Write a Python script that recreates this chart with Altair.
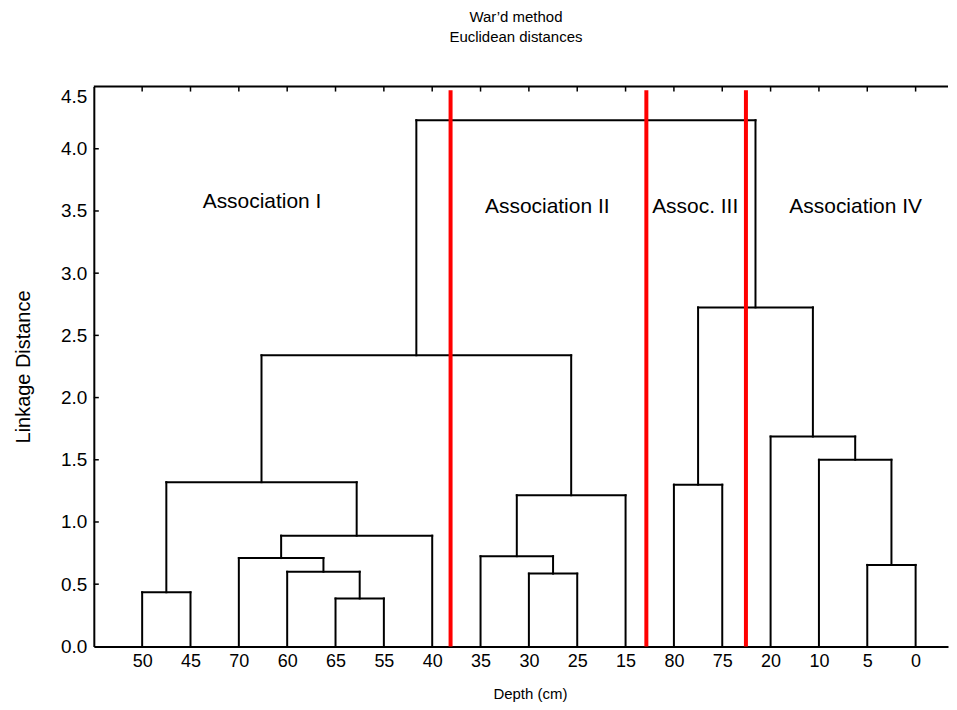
import altair as alt
import pandas as pd

FONT = "Liberation Sans"

# ---- data ----
leaf_labels = ["50", "45", "70", "60", "65", "55", "40", "35", "30", "25",
               "15", "80", "75", "20", "10", "5", "0"]

# agglomeration steps: left child, right child, linkage distance
# children are leaf labels or cluster ids "c1".."c16" (cN = result of step N)
merge_left = ["65", "50", "30", "60", "5", "70", "35", "c6", "c7", "80",
              "c2", "10", "20", "c11", "c10", "c14"]
merge_right = ["55", "45", "25", "c1", "0", "c4", "c3", "40", "15", "75",
               "c8", "c5", "c12", "c9", "c13", "c15"]
merge_height = [0.385, 0.435, 0.585, 0.60, 0.655, 0.71, 0.725, 0.89, 1.215,
                1.30, 1.32, 1.50, 1.687, 2.34, 2.725, 4.23]

cut_positions = [6.38, 10.43, 12.49]     # red separators (leaf units)
cut_top = 4.47

assoc_names = ["Association I", "Association II", "Assoc. III", "Association IV"]
assoc_x = [2.48, 8.38, 11.44, 14.76]
assoc_y = [3.57, 3.53, 3.53, 3.53]

y_ticks = [0.0, 0.5, 1.0, 1.5, 2.0, 2.5, 3.0, 3.5, 4.0, 4.5]

# ---- build dendrogram segments ----
pos = {lab: float(i) for i, lab in enumerate(leaf_labels)}
hgt = {lab: 0.0 for lab in leaf_labels}
rows = []
for k, (a, b, h) in enumerate(zip(merge_left, merge_right, merge_height)):
    xa, xb = pos[a], pos[b]
    rows.append({"x": xa, "x2": xa, "y": hgt[a], "y2": h})
    rows.append({"x": xb, "x2": xb, "y": hgt[b], "y2": h})
    rows.append({"x": xa, "x2": xb, "y": h, "y2": h})
    cid = f"c{k + 1}"
    pos[cid] = (xa + xb) / 2.0
    hgt[cid] = h
seg_df = pd.DataFrame(rows)

leaf_df = pd.DataFrame({"x": list(range(len(leaf_labels))), "lab": leaf_labels})
cut_df = pd.DataFrame({"x": cut_positions, "y": [0.0] * len(cut_positions),
                       "y2": [cut_top] * len(cut_positions)})
assoc_df = pd.DataFrame({"x": assoc_x, "y": assoc_y, "t": assoc_names})
ytick_df = pd.DataFrame({"y": y_ticks[1:-1]})
top_df = pd.DataFrame({"y": [y_ticks[-1]]})

W, H = 856, 561
x_scale = alt.Scale(domain=[-1, 16.67], nice=False, zero=False)
y_scale = alt.Scale(domain=[0, 4.5], nice=False, zero=True)

label_expr = "[" + ",".join(f"'{l}'" for l in leaf_labels) + "][datum.value]"

x_axis = alt.Axis(values=list(range(len(leaf_labels))), labelExpr=label_expr,
                  ticks=False, grid=False, domainColor="black", domainWidth=2,
                  labelFont=FONT, labelFontSize=18, labelColor="black",
                  labelPadding=6, labelAngle=0,
                  title="Depth (cm)", titleFont=FONT, titleFontSize=15,
                  titleFontWeight="normal", titleColor="black",
                  titlePadding=16, titleX=437)
y_axis = alt.Axis(values=y_ticks, format=".1f", ticks=False, grid=False,
                  domainColor="black", domainWidth=2,
                  labelFont=FONT, labelFontSize=19, labelColor="black",
                  labelPadding=7,
                  labelOffset={"condition": {"test": "datum.value === 4.5", "value": 10}, "value": 0},
                  title="Linkage Distance", titleFont=FONT, titleFontSize=20,
                  titleFontWeight="normal", titleColor="black", titlePadding=27)

X = lambda f: alt.X(f, scale=x_scale, axis=x_axis, title="Depth (cm)")
Y = lambda f: alt.Y(f, scale=y_scale, axis=y_axis, title="Linkage Distance")

segs = alt.Chart(seg_df).mark_rule(color="black", strokeWidth=2, strokeCap="square").encode(
    x=X("x:Q"), x2="x2:Q", y=Y("y:Q"), y2="y2:Q",
)

top_border = alt.Chart(top_df).mark_rule(color="black", strokeWidth=2).encode(
    y=Y("y:Q")
)

top_ticks = alt.Chart(leaf_df).mark_rule(color="black", strokeWidth=1.5).encode(
    x=X("x:Q"), y=alt.value(0), y2=alt.value(5),
)

left_ticks = alt.Chart(ytick_df).mark_rule(color="black", strokeWidth=1.5).encode(
    y=Y("y:Q"), x=alt.value(0), x2=alt.value(5),
)

cuts = alt.Chart(cut_df).mark_rule(color="#ff0000", strokeWidth=4).encode(
    x=X("x:Q"), y=Y("y:Q"), y2="y2:Q",
)

labels = alt.Chart(assoc_df).mark_text(font=FONT, fontSize=21, color="black").encode(
    x=X("x:Q"), y=Y("y:Q"), text="t:N",
)

chart = alt.layer(segs, top_border, top_ticks, left_ticks, cuts, labels).properties(
    width=W, height=H,
    padding={"left": 5, "top": 1, "right": 0, "bottom": 0},
    title=alt.TitleParams(["War\u2019d method", "Euclidean distances"],
                          font=FONT, fontSize=15, fontWeight="normal",
                          color="black", anchor="middle", lineHeight=20,
                          offset=41, dx=-5),
).configure_view(stroke=None)

chart.save("out.html", embed_options={"renderer": "svg", "actions": False})
